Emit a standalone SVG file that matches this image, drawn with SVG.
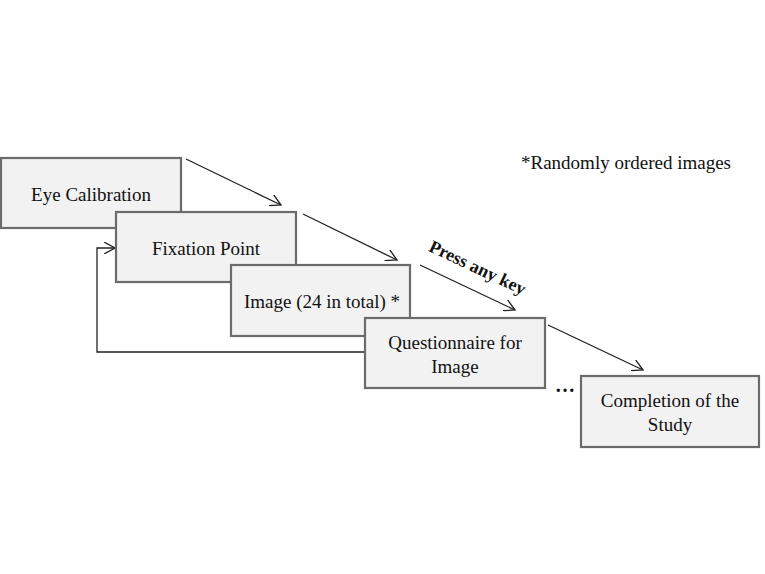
<svg xmlns="http://www.w3.org/2000/svg" width="765" height="574" viewBox="0 0 765 574">
<style>
.box{fill:#f2f2f2;stroke:#6b6b6b;stroke-width:2.2}
.t{font-family:"Liberation Serif",serif;font-size:19px;fill:#111;text-anchor:middle}
.c{fill:none;stroke:#222;stroke-width:1.3}
</style>
<defs>
<marker id="ah" viewBox="0 0 12 12" refX="11" refY="6" markerWidth="12" markerHeight="12" markerUnits="userSpaceOnUse" orient="auto">
<path d="M0,0 L11,6 L0,12" fill="none" stroke="#222" stroke-width="1.3"/>
</marker>
</defs>
<rect width="765" height="574" fill="#fff"/>
<g id="connectors">
<line class="c" x1="186" y1="159" x2="281" y2="205" marker-end="url(#ah)"/>
<line class="c" x1="303" y1="214" x2="397" y2="260" marker-end="url(#ah)"/>
<line class="c" x1="420" y1="265" x2="515" y2="310" marker-end="url(#ah)"/>
<line class="c" x1="548" y1="325" x2="643" y2="370" marker-end="url(#ah)"/>
<polyline class="c" points="366,352 97,352 97,248 115,248" marker-end="url(#ah)"/>
<text x="0" y="0" transform="translate(475,273) rotate(25.3)" style="font-family:'Liberation Serif',serif;font-size:18px;font-weight:bold;fill:#111;text-anchor:middle">Press any key</text>
</g>
<g id="eye-calibration">
<rect class="box" x="1" y="158" width="180" height="70"/>
<text class="t" x="91" y="201">Eye Calibration</text>
</g>
<g id="fixation-point">
<rect class="box" x="116" y="212" width="180" height="70"/>
<text class="t" x="206" y="255">Fixation Point</text>
</g>
<g id="image">
<rect class="box" x="231" y="265" width="179" height="71"/>
<text class="t" x="322" y="308">Image (24 in total) *</text>
</g>
<g id="questionnaire">
<rect class="box" x="365" y="318" width="180" height="70"/>
<text class="t" x="455" y="349">Questionnaire for</text>
<text class="t" x="455" y="373">Image</text>
</g>
<g id="completion">
<rect class="box" x="581" y="376" width="178" height="71"/>
<text class="t" x="670" y="407">Completion of the</text>
<text class="t" x="670" y="431">Study</text>
</g>
<text x="565" y="392" style="font-family:'Liberation Serif',serif;font-size:20px;font-weight:bold;fill:#111;text-anchor:middle">…</text>
<text x="521" y="169" style="font-family:'Liberation Serif',serif;font-size:19px;fill:#111">*Randomly ordered images</text>
</svg>
